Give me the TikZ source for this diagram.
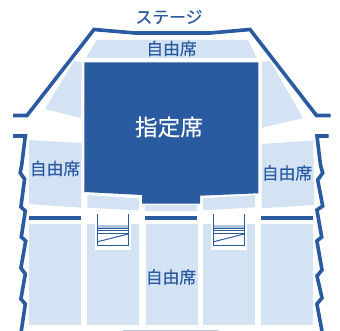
\documentclass[tikz,border=0pt]{standalone}
\usepackage{fontspec}
\setmainfont{Noto Sans CJK JP}
\newfontfamily\heavyjp[FakeBold=0.25]{Noto Sans CJK JP}
\definecolor{deep}{HTML}{2A5AA0}
\definecolor{pale}{HTML}{D3E3F4}
\definecolor{faint}{HTML}{B4C4DE}
\tikzset{
  wall/.style={draw=deep,line width=2.7pt,line join=miter},
  seat/.style={fill=pale},
  band/.style={fill=deep},
  stair/.style={draw=deep,line width=0.75pt},
  lab/.style={text=deep,font=\heavyjp\fontsize{12.6pt}{13pt}\selectfont,inner sep=0pt},
  bigl/.style={text=white,font=\heavyjp\fontsize{17pt}{18pt}\selectfont,inner sep=0pt}
}
\begin{document}
\begin{tikzpicture}[x=0.75pt,y=-0.75pt]
\useasboundingbox (0,0) rectangle (340,331);
\fill[white] (0,0) rectangle (340,331);
% outline
\draw[wall] (13,115.5) -- (27,115.5) -- (94,29.5) -- (135,33) -- (210,33) -- (250,29.5) -- (316.5,115.5) -- (330.5,115.5);
\draw[wall] (13,136) -- (25.3,136) -- (21.7,165) -- (20.2,173) -- (24.6,179) -- (20.9,207) -- (25.3,211) -- (21.3,237) -- (25.7,241) -- (20.9,268) -- (25.3,274) -- (20.9,299) -- (25.3,304) -- (21.3,331);
\draw[wall] (328.7,136) -- (317,136) -- (320.5,165) -- (322.7,173) -- (317.7,180) -- (322.7,206) -- (316.9,210) -- (321.7,237) -- (316.9,241) -- (322,270) -- (317,276) -- (322,298) -- (316.9,304) -- (322,331);
% seats
\fill[seat] (96.7,40) -- (248,40) -- (256.7,58) -- (86,58) -- cycle;
\fill[seat] (74,61) -- (81.7,62) -- (81,118) -- (45,109) -- cycle;
\fill[seat] (261.7,62) -- (270,60.7) -- (303,118) -- (262,127.7) -- cycle;
\fill[seat] (29,140) -- (81.7,143) -- (81,207.7) -- (29,204) -- cycle;
\fill[seat] (261.7,144) -- (313.3,140.3) -- (314,205) -- (261.7,208.3) -- cycle;
\fill[seat] (87.3,195) -- (139,198.3) -- (139,210.3) -- (87.3,207.7) -- cycle;
\fill[seat] (145,205) rectangle (197,211);
\fill[seat] (203,198.3) -- (255,195) -- (255,207.3) -- (203,210.3) -- cycle;
\foreach \a/\b in {29/81,87/139,145.5/197.5,203/255,261/313}
  \fill[seat] (\a,224) rectangle (\b,325);
% main block
\fill[deep] (84.3,62.3) -- (258.3,62.3) -- (258.3,193.3) -- (200,195.7) -- (200,203.7) -- (142,203.7) -- (142,195) -- (84.3,192) -- cycle;
% bands
\foreach \a/\b in {29/81,145/197,261/313}
  \fill[band] (\a,216.5) rectangle (\b,220.2);
% stairs
\foreach \o in {0,116}{
  \fill[white] (95+\o,224) rectangle (131+\o,250);
  \fill[faint] (97.7+\o,225.3) rectangle (128.3+\o,228.3);
  \draw[stair] (97.7+\o,214.3) -- (97.7+\o,245.7) -- (128.3+\o,245.7) -- (128.3+\o,214.3);
  \draw[stair] (97.7+\o,228.3) -- (128.3+\o,228.3);
  \draw[stair] (97.7+\o,230.7) -- (128.3+\o,230.7);
  \draw[stair] (97.7+\o,233.3) -- (128.3+\o,233.3);
  \draw[stair] (97.7+\o,241.7) -- (128.3+\o,234);
}
\fill[faint] (123,330) rectangle (217.7,331);
% labels
\node[lab] (stage) at (169,17) {ステージ};
\node[lab] (top) at (171.5,48.5) {自由席};
\node[bigl] (main) at (169,127) {指定席};
\node[lab] (left) at (55,168.5) {自由席};
\node[lab] (right) at (287,173) {自由席};
\node[lab] (bottom) at (171,277) {自由席};
\end{tikzpicture}
\end{document}
